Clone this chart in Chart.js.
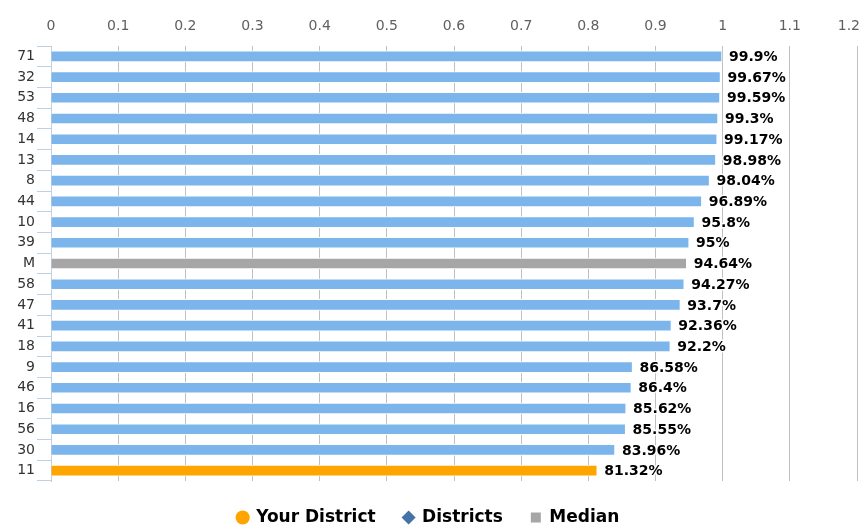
<!DOCTYPE html>
<html lang="en">
<head>
    <meta charset="UTF-8">
    <title>District Rates</title>
    <style>
        html, body { margin: 0; padding: 0; background: #fff; }
        #wrap { width: 861px; height: 527px; }
    </style>
</head>
<body>
    <div id="wrap"><canvas id="rateChart" width="861" height="527"></canvas></div>
    <script src="https://cdn.jsdelivr.net/npm/chart.js"></script>
    <script>
        // Chart data
        const districts = ['71', '32', '53', '48', '14', '13', '8', '44', '10', '39', 'M', '58', '47', '41', '18', '9', '46', '16', '56', '30', '11'];
        const percents = [99.9, 99.67, 99.59, 99.3, 99.17, 98.98, 98.04, 96.89, 95.8, 95, 94.64, 94.27, 93.7, 92.36, 92.2, 86.58, 86.4, 85.62, 85.55, 83.96, 81.32];
        const xTicks = [0, 0.1, 0.2, 0.3, 0.4, 0.5, 0.6, 0.7, 0.8, 0.9, 1, 1.1, 1.2];
        const legendNames = ['Your District', 'Districts', 'Median'];

        const blue = '#7cb5ec', gray = '#a6a6a6', orange = '#ffa500';
        const barColors = districts.map(d => d === 'M' ? gray : (d === '11' ? orange : blue));
        const fontFamily = '"DejaVu Sans", sans-serif';

        // value labels at the end of each bar
        const valueLabels = {
            id: 'valueLabels',
            beforeDraw(chart) {
                // keep the last x tick label inside the canvas
                const items = chart.scales.x.getLabelItems();
                const last = items[items.length - 1];
                if (last) {
                    last.options.textAlign = 'right';
                    last.options.translation[0] = chart.width - 1;
                }
            },
            afterDatasetsDraw(chart) {
                const ctx = chart.ctx;
                const meta = chart.getDatasetMeta(0);
                ctx.save();
                ctx.font = 'bold 14px ' + fontFamily;
                ctx.textBaseline = 'middle';
                ctx.textAlign = 'left';
                ctx.lineJoin = 'round';
                meta.data.forEach((bar, i) => {
                    const txt = percents[i] + '%';
                    const x = bar.x + 7, y = bar.y + 1;
                    ctx.strokeStyle = '#fff';
                    ctx.lineWidth = 3;
                    ctx.strokeText(txt, x, y);
                    ctx.fillStyle = '#000';
                    ctx.fillText(txt, x, y);
                });
                ctx.restore();
            }
        };

        new Chart(document.getElementById('rateChart'), {
            type: 'bar',
            data: {
                labels: districts,
                datasets: [{
                    data: percents.map(p => p / 100),
                    backgroundColor: barColors,
                    borderColor: '#ffffff',
                    borderWidth: 1,
                    barThickness: 11
                }]
            },
            options: {
                indexAxis: 'y',
                responsive: false,
                animation: false,
                layout: { padding: { top: 0, right: 4, bottom: -9, left: 0 } },
                scales: {
                    x: {
                        position: 'top',
                        min: 0,
                        max: 1.2,
                        afterBuildTicks: s => { s.ticks = xTicks.map(v => ({ value: v })); },
                        afterFit: s => { s.height = 46; s.paddingRight = 0; },
                        ticks: {
                            color: '#606060',
                            font: { family: fontFamily, size: 14 },
                            padding: 11,
                            callback: v => String(+v.toFixed(1))
                        },
                        grid: { color: '#c0c0c0', drawTicks: false, lineWidth: 1 },
                        border: { display: false }
                    },
                    y: {
                        afterFit: s => { s.width = 51; },
                        ticks: {
                            color: '#333333',
                            font: { family: fontFamily, size: 14 },
                            padding: 2
                        },
                        grid: { offset: true, drawOnChartArea: false, tickLength: 14, color: '#c0d0e0' },
                        border: { color: '#c0d0e0', width: 1 }
                    }
                },
                plugins: {
                    tooltip: { enabled: false },
                    legend: {
                        position: 'bottom',
                        labels: {
                            usePointStyle: true,
                            boxWidth: 10,
                            boxHeight: 10,
                            padding: 28,
                            color: '#333333',
                            font: { family: fontFamily, size: 17, weight: 'bold' },
                            generateLabels: () => [
                                { text: legendNames[0], fillStyle: orange, strokeStyle: orange, pointStyle: 'circle', lineWidth: 0 },
                                { text: legendNames[1], fillStyle: '#4572a7', strokeStyle: '#4572a7', pointStyle: 'rectRot', lineWidth: 0 },
                                { text: legendNames[2], fillStyle: gray, strokeStyle: gray, pointStyle: 'rect', lineWidth: 0 }
                            ]
                        }
                    }
                }
            },
            plugins: [valueLabels]
        });
    </script>
</body>
</html>
